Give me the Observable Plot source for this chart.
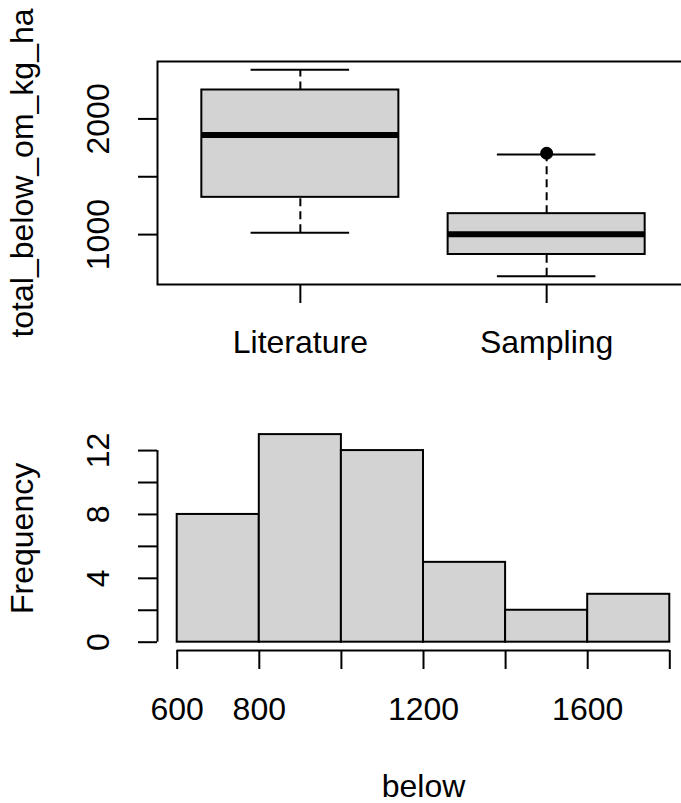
<!DOCTYPE html>
<html>
<head>
<meta charset="utf-8">
<script src="https://cdn.jsdelivr.net/npm/d3@7"></script>
<script src="https://cdn.jsdelivr.net/npm/@observablehq/plot@0.6"></script>
<style>
  html, body { margin: 0; padding: 0; background: white; overflow: hidden; }
  #wrap svg { display: block; }
  #wrap g[aria-label$="tick"], #wrap g[aria-label$="tick"] path { stroke-width: 2px; }
  #wrap .tick line { stroke-width: 2px; }
</style>
</head>
<body>
<div id="wrap"></div>
<script>
// ---- Boxplot data (total_below_om_kg_ha by source) ----
const categories = ["Literature", "Sampling"];
const whiskerLow = [1017, 640];
const quartile1 = [1322, 828];
const medians = [1862, 1003];
const quartile3 = [2250, 1181];
const whiskerHigh = [2425, 1692];
const outlierGroups = ["Sampling"];
const outlierValues = [1703];
const boxTicks = [1000, 1500, 2000];
const boxTickLabels = ["1000", "", "2000"];
const boxYLabel = "total_below_om_kg_ha";

// ---- Histogram data (below) ----
const binStart = [600, 800, 1000, 1200, 1400, 1600];
const binEnd = [800, 1000, 1200, 1400, 1600, 1800];
const binCount = [8, 13, 12, 5, 2, 3];
const histXTicks = [600, 800, 1000, 1200, 1400, 1600, 1800];
const histXLabels = ["600", "800", "", "1200", "", "1600", ""];
const histYTicks = [0, 2, 4, 6, 8, 10, 12];
const histYLabels = ["0", "", "4", "", "8", "", "12"];
const histXLabel = "below";
const histYLabel = "Frequency";

const FONT = "'Liberation Sans', Arial, Helvetica, sans-serif";
const GRAY = "#d3d3d3";
const plotStyle = {fontSize: "32px", fontFamily: FONT, color: "black", background: "white"};

// R-like axis extension (4%)
const ext = (a, b) => { const d = (b - a) * 0.04; return [a - d, b + d]; };

const boxes = categories.map((c, i) => ({
  cat: c, pos: i + 1,
  lo: whiskerLow[i], q1: quartile1[i], med: medians[i], q3: quartile3[i], hi: whiskerHigh[i]
}));
const outliers = outlierGroups.map((g, i) => ({pos: categories.indexOf(g) + 1, v: outlierValues[i]}));

const yLimTop = ext(Math.min(...whiskerLow, ...outlierValues), Math.max(...whiskerHigh, ...outlierValues));
const xLimTop = ext(0.5, categories.length + 0.5);

const boxPlot = Plot.plot({
  width: 681, height: 400,
  marginLeft: 157, marginRight: -8, marginTop: 61, marginBottom: 116,
  style: plotStyle,
  x: {domain: xLimTop, ticks: categories.map((c, i) => i + 1), tickFormat: d => categories[d - 1] ?? "",
      tickSize: 19, tickPadding: 26.5, label: null},
  y: {domain: yLimTop, ticks: boxTicks, tickFormat: () => "", tickSize: 19, label: null},
  marks: [
    Plot.ruleX(boxes, {x: "pos", y1: "q3", y2: "hi", stroke: "black", strokeWidth: 2, strokeDasharray: "8,5"}),
    Plot.ruleX(boxes, {x: "pos", y1: "lo", y2: "q1", stroke: "black", strokeWidth: 2, strokeDasharray: "8,5"}),
    Plot.ruleY(boxes, {y: "hi", x1: d => d.pos - 0.2, x2: d => d.pos + 0.2, stroke: "black", strokeWidth: 2}),
    Plot.ruleY(boxes, {y: "lo", x1: d => d.pos - 0.2, x2: d => d.pos + 0.2, stroke: "black", strokeWidth: 2}),
    Plot.rect(boxes, {x1: d => d.pos - 0.4, x2: d => d.pos + 0.4, y1: "q1", y2: "q3", fill: GRAY, stroke: "black", strokeWidth: 2}),
    Plot.ruleY(boxes, {y: "med", x1: d => d.pos - 0.4, x2: d => d.pos + 0.4, stroke: "black", strokeWidth: 6}),
    Plot.dot(outliers, {x: "pos", y: "v", r: 6.5, fill: "black", stroke: null}),
    Plot.frame({stroke: "black", strokeWidth: 2}),
    Plot.text(boxTicks, {y: d => d, text: (d, i) => boxTickLabels[i], frameAnchor: "left", dx: -48.7,
      rotate: -90, textAnchor: "middle", lineAnchor: "bottom", fill: "black"}),
    Plot.text([boxYLabel], {text: d => d, frameAnchor: "left", dx: -125, rotate: -90,
      textAnchor: "middle", lineAnchor: "bottom", fill: "black"})
  ]
});

const bins = binStart.map((s, i) => ({x1: s, x2: binEnd[i], n: binCount[i]}));
const xLimHist = ext(Math.min(...binStart), Math.max(...binEnd));
const yLimHist = ext(0, Math.max(...binCount));

const histPlot = Plot.plot({
  width: 681, height: 403,
  marginLeft: 157, marginRight: -8, marginTop: 25.8, marginBottom: 153,
  style: plotStyle,
  x: {domain: xLimHist, ticks: histXTicks, tickFormat: d => histXLabels[histXTicks.indexOf(d)] ?? "",
      tickSize: 19, tickPadding: 27.6, label: null},
  y: {domain: yLimHist, ticks: histYTicks, tickFormat: () => "", tickSize: 19, label: null},
  marks: [
    Plot.rect(bins, {x1: "x1", x2: "x2", y1: 0, y2: "n", fill: GRAY, stroke: "black", strokeWidth: 2}),
    Plot.ruleY([yLimHist[0]], {x1: histXTicks[0], x2: histXTicks[histXTicks.length - 1], stroke: "black", strokeWidth: 2}),
    Plot.ruleX([xLimHist[0]], {y1: histYTicks[0], y2: histYTicks[histYTicks.length - 1], stroke: "black", strokeWidth: 2}),
    Plot.text(histYTicks, {y: d => d, text: (d, i) => histYLabels[i], frameAnchor: "left", dx: -48.7,
      rotate: -90, textAnchor: "middle", lineAnchor: "bottom", fill: "black"}),
    Plot.text([histYLabel], {text: d => d, frameAnchor: "left", dx: -125, rotate: -90,
      textAnchor: "middle", lineAnchor: "bottom", fill: "black"}),
    Plot.text([histXLabel], {text: d => d, frameAnchor: "bottom", dy: 146.7,
      textAnchor: "middle", lineAnchor: "bottom", fill: "black"})
  ]
});

document.getElementById("wrap").append(boxPlot, histPlot);
</script>
</body>
</html>
